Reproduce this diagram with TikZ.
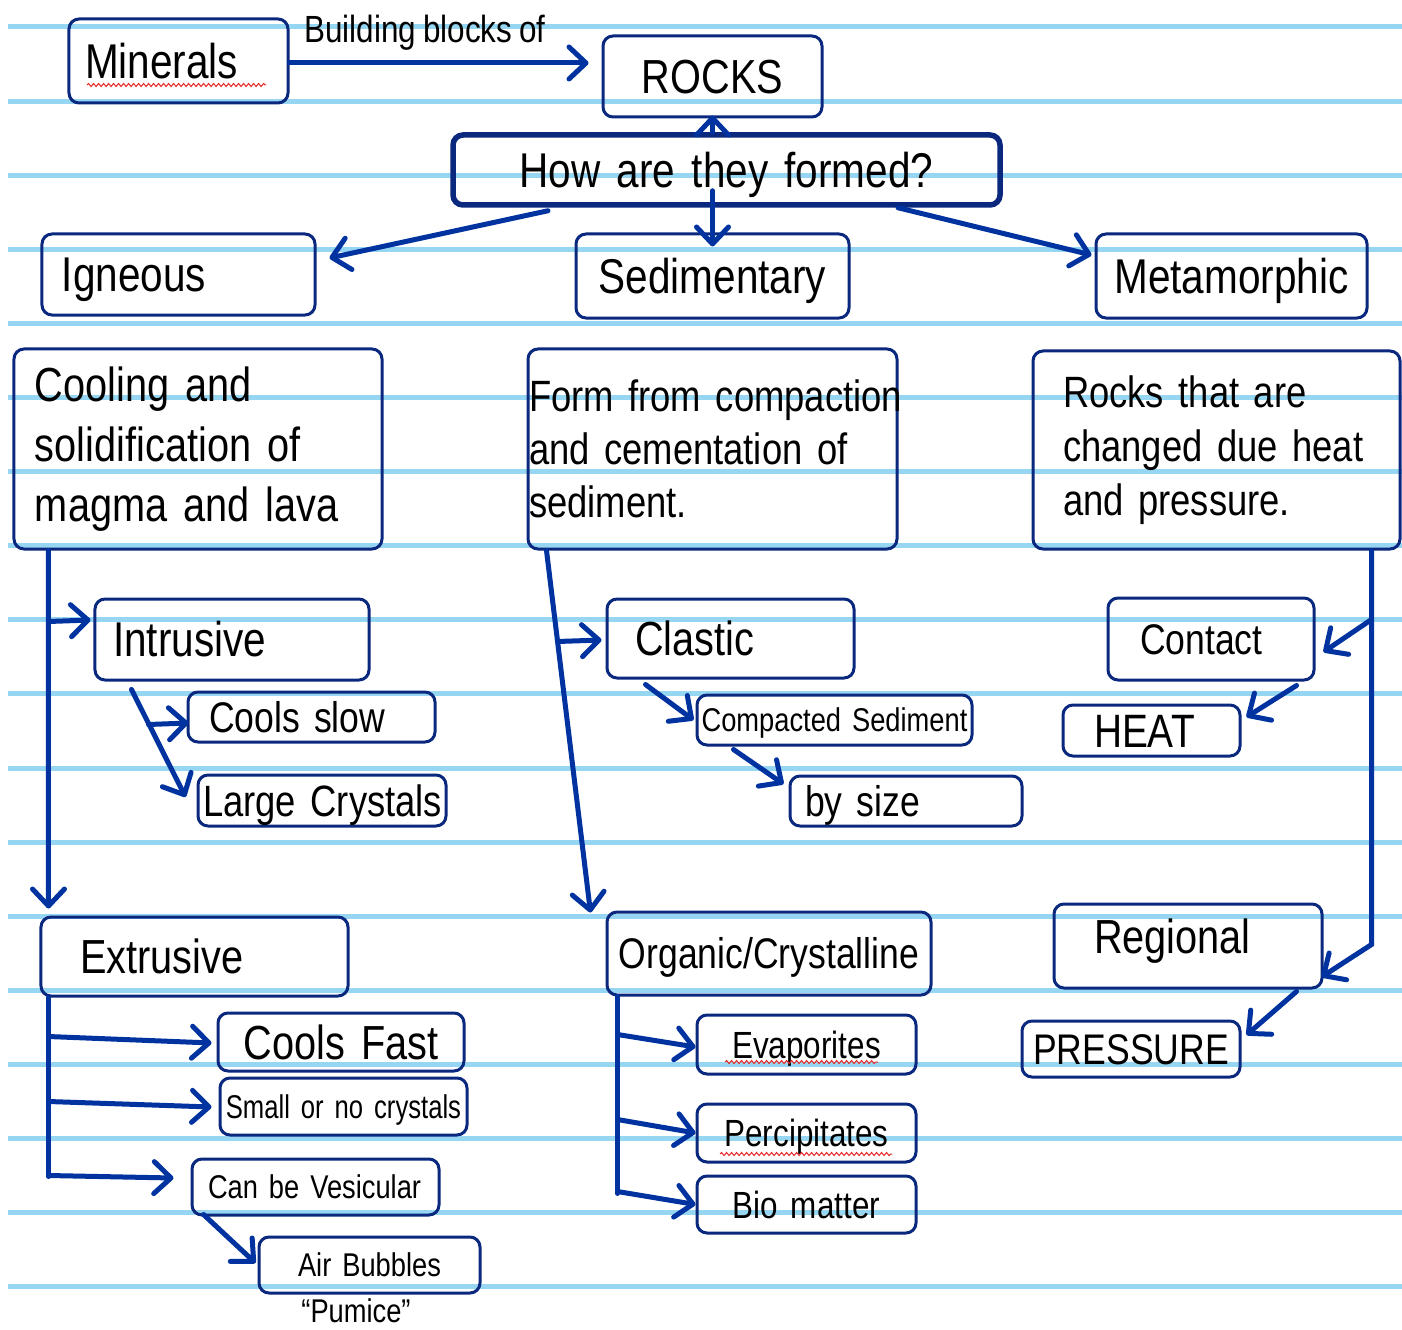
\documentclass[tikz,border=0pt]{standalone}
\usepackage{fontspec}
\setmainfont{Liberation Sans}[FakeStretch=0.83,WordSpace=0.83]
\newfontfamily\narrowfont{Liberation Sans}[FakeStretch=0.78,WordSpace=0.78]
\usetikzlibrary{arrows.meta,calc,decorations.pathmorphing}
\definecolor{rulec}{RGB}{150,214,242}
\definecolor{boxc}{RGB}{10,40,125}
\definecolor{arrc}{RGB}{0,50,160}
\definecolor{squig}{RGB}{230,40,40}
\hyphenpenalty=10000
\exhyphenpenalty=10000
\begin{document}
\begin{tikzpicture}[x=1bp,y=-1bp,
  box/.style={draw=boxc, line width=3bp, rounded corners=10bp, inner sep=0pt, text=black},
  sz/.code={\pgfmathsetmacro\capht{#1*0.716}\tikzset{font=\fontsize{#1}{#1}\selectfont,text depth=0pt,text height/.expanded=\capht pt}},
  ml/.style 2 args={font=\fontsize{#1}{#2}\selectfont},
  dims/.style n args={3}{minimum width=#1bp, minimum height=#2bp, text width=#3bp},
  arr/.style={draw=arrc, line width=5bp, line cap=round, -{Straight Barb[length=17bp,width=32bp,round]}},
  ln/.style={draw=arrc, line width=5bp, line cap=round},
  rl/.style={draw=rulec, line width=5bp},
  sq/.style={draw=squig, line width=1bp, decorate, decoration={snake, segment length=5bp, amplitude=1.5bp}}]
\fill[white] (0,0) rectangle (1402,1330);
\useasboundingbox (0,0) rectangle (1402,1330);
\foreach \k in {0,...,17} \draw[rl] (8,{27+74.1*\k}) -- (1402,{27+74.1*\k});

% boxes
\node[box, sz=49, dims={219}{84}{187}, align=left] (minerals) at (178.5,61) {Minerals};
\node[box, sz=48, dims={219}{81}{200}, align=center] (rocks) at (712.5,76.5) {ROCKS};
\node[box, line width=5.5bp, sz=49, dims={547}{70}{520}, align=center] (how) at (726.5,170) {How are they formed?};
\node[box, sz=49, dims={273}{81}{233}, align=left] (igneous) at (178.5,274.5) {Igneous};
\node[box, sz=49, dims={273}{84}{260}, align=center] (sed) at (712.5,276) {Sedimentary};
\node[box, sz=49, dims={271}{84}{260}, align=center] (meta) at (1231.5,276) {Metamorphic};
\node[box, ml={48}{60}, dims={368}{200}{326}, align=left] (cool) at (198,449) {Cooling and\\solidification of\\magma and lava};
\node[box, ml={44}{53.5}, dims={369}{200}{367}, align=left] (form) at (712.5,449) {\mbox{Form from compaction}\\and cementation of\\sediment.};
\node[box, ml={44}{54}, dims={367}{198}{307}, align=left] (rchg) at (1216.5,450) {Rocks that are\\changed due heat\\and pressure.};
\node[box, sz=49, dims={274}{81}{238}, align=left] (intr) at (232,639.5) {Intrusive};
\node[box, sz=43, dims={247}{50}{205}, align=left] (slow) at (311.5,717) {Cools slow};
\node[box, sz=44, dims={248}{51}{238}, align=left] (large) at (322,800.5) {\mbox{Large Crystals}};
\node[box, sz=48, dims={247}{79}{191}, align=left] (clastic) at (730.5,638.5) {Clastic};
\node[box, sz=33, dims={275}{50}{273}, align=center] (compact) at (834.5,720) {\mbox{Compacted Sediment}};
\node[box, sz=43, dims={232}{50}{202}, align=left] (bysize) at (906,801) {by size};
\node[box, sz=43, dims={206}{82}{142}, align=left] (contact) at (1211,639) {Contact};
\node[box, sz=47, dims={177}{51}{115}, align=left] (heat) at (1151.5,730.5) {HEAT};
\node[box, sz=48, text depth=20bp, dims={268}{84}{188}, align=left] (regional) at (1188,946) {Regional};
\node[box, sz=43, dims={218}{56}{210}, align=center] (pressure) at (1131,1049) {PRESSURE};
\node[box, sz=48, dims={307}{79}{229}, align=left] (extr) at (194.5,956.5) {Extrusive};
\node[box, sz=48, dims={246}{58}{236}, align=center] (fast) at (341,1042) {Cools Fast};
\node[box, sz=33, font=\narrowfont\fontsize{33}{33}\selectfont, dims={247}{57}{247}, align=center] (small) at (343.5,1106.5) {\mbox{Small or no crystals}};
\node[box, sz=33, dims={247}{56}{215}, align=left] (vesic) at (315.5,1187) {\mbox{Can be Vesicular}};
\node[box, sz=33, dims={221}{56}{211}, align=center] (air) at (369.5,1265) {Air Bubbles};
\node[box, sz=43, dims={324}{83}{314}, align=center] (organic) at (769,953.5) {\mbox{Organic/Crystalline}};
\node[box, sz=38, dims={219}{59}{209}, align=center] (evap) at (806.5,1044.5) {Evaporites};
\node[box, sz=38, dims={219}{58}{209}, align=center] (percip) at (806.5,1133) {Percipitates};
\node[box, sz=38, dims={219}{57}{209}, align=center] (bio) at (806.5,1204.5) {Bio matter};

% free texts
\node[sz=38, inner sep=0pt] (blk) at (425,28.5) {Building blocks of};
\node[sz=33, inner sep=0pt] (pum) at (356,1311) {“Pumice”};

% spelling squiggles
\draw[sq] (87,85) -- (266,85);
\draw[sq] (725,1062) -- (878,1062);
\draw[sq] (720,1154) -- (892,1154);

% connectors
\draw[arr] ($(minerals.east)+(0,2)$) -- ($(rocks.west)+(-13,-13.5)$);
\draw[arr] (how.north -| rocks.south) -- ($(rocks.south)+(0,-3)$);
\draw[arr] ($(how.south)+(-178.5,3)$) -- ($(igneous.east)+(13,-16.5)$);
\draw[arr] ($(how.south -| sed.north)+(0,-17)$) -- ($(sed.north)+(0,14)$);
\draw[arr] ($(how.south)+(171.5,0)$) -- ($(meta.west)+(-3,-21)$);

\draw[arr] ($(cool.south west)+(36,0)$) -- ($(extr.north west)+(9,-7)$);
\draw[arr] ($(cool.south west)+(36,71)$) -- ($(intr.west)+(-3,-19.5)$);
\draw[arr] ($(intr.south west)+(38,8)$) -- ($(large.west)+(-11,-3.5)$);
\draw[arr] ($(intr.south west)+(55,43)$) -- ($(slow.west)+(2,6)$);

\draw[arr] ($(form.south west)+(20,0)$) -- ($(organic.north west)+(-15,2)$);
\draw[arr] ($(form.south west)+(31,91)$) -- ($(clastic.west)+(-4,1.5)$);
\draw[arr] ($(clastic.south west)+(40,5)$) -- ($(compact.west)+(-2,0)$);
\draw[arr] ($(compact.south west)+(38,3)$) -- ($(bysize.west)+(-5,-17)$);

\draw[arr] ($(rchg.south east)+(-30,0)$) -- ++(0,394) -- ($(regional.east)+(-2,31)$);
\draw[arr] ($(rchg.south east)+(-30,69)$) -- ($(contact.east)+(8,13)$);
\draw[arr] ($(contact.south east)+(-19,4)$) -- ($(heat.east)+(5,-13.5)$);
\draw[arr] ($(regional.south east)+(-27,2)$) -- ($(pressure.east)+(5,-14)$);

\draw[ln] ($(extr.south west)+(9,0)$) -- ++(0,179);
\draw[arr] ($(extr.south west)+(9,39)$) -- ($(fast.west)+(-5,1)$);
\draw[arr] ($(extr.south west)+(9,104)$) -- ($(small.west)+(-7,0.5)$);
\draw[arr] ($(extr.south west)+(9,178)$) -- ($(vesic.west)+(-17,-9)$);
\draw[arr] ($(vesic.south west)+(13,-2)$) -- ($(air.west)+(-2,-2)$);

\draw[ln] ($(organic.south west)+(12,0)$) -- ++(0,197);
\draw[arr] ($(organic.south west)+(12,38)$) -- ($(evap.west)+(0,2.5)$);
\draw[arr] ($(organic.south west)+(12,123)$) -- (percip.west);
\draw[arr] ($(organic.south west)+(12,195)$) -- (bio.west);
\end{tikzpicture}
\end{document}
